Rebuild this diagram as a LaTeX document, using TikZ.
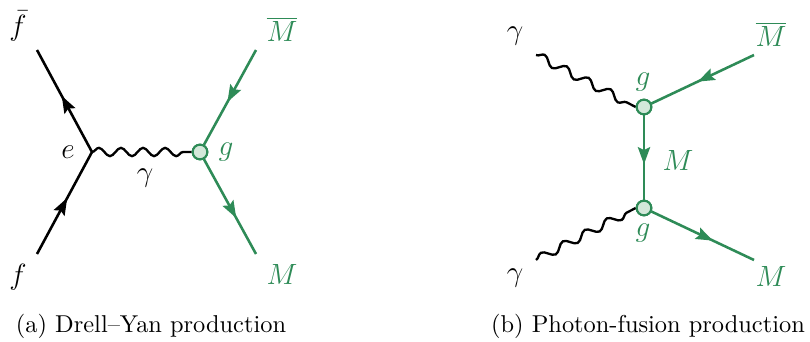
\documentclass[tikz,border=0pt]{standalone}
\usetikzlibrary{decorations.pathmorphing,decorations.markings,arrows.meta}
\definecolor{fgreen}{RGB}{46,139,87}
\definecolor{vfill}{RGB}{212,232,218}
\begin{document}
\begin{tikzpicture}[x=0.41pt,y=-0.41pt,
  fermion/.style={line width=1.05pt, postaction={decorate},
    decoration={markings, mark=at position #1 with {\arrow{Stealth[length=7pt,width=5pt,inset=1.2pt]}}}},
  fermion/.default=0.55,
  photon/.style={line width=0.95pt, decorate,
    decoration={snake, segment length=#1, amplitude=1.7pt}},
  photon/.default=10pt,
  vtx/.style={circle, draw=fgreen, fill=vfill, line width=0.85pt, inner sep=0pt, minimum size=6pt},
  pt/.style={inner sep=0pt, minimum size=0pt},
  lbl/.style={inner sep=0pt, font=\large},
  glbl/.style={inner sep=0pt, text=fgreen, font=\large},
  captext/.style={inner sep=0pt},
]
\useasboundingbox (0,0) rectangle (810,341);
% ---------- (a) Drell-Yan ----------
\coordinate (fbarend) at (37,50);
\coordinate (fend) at (37,254);
\coordinate (Mbarend) at (256,50);
\coordinate (Mend) at (256,254);
\node[pt] (e) at (92,152) {};
\node[vtx] (ga) at (200,152) {};
\draw[fermion] (fend) -- (e.center);
\draw[fermion] (e.center) -- (fbarend);
\draw[photon=9.05pt] (e.center) -- (ga.west);
\draw[fermion=0.55, draw=fgreen, color=fgreen] (Mbarend) -- (ga);
\draw[fermion=0.62, draw=fgreen, color=fgreen] (ga) -- (Mend);
\node[vtx] at (ga) {};
\node[lbl] (lfbar) at (18,26) {$\bar f$};
\node[lbl] (lf) at (18,277) {$f$};
\node[lbl] (le) at (68,152) {$e$};
\node[lbl] (lgam) at (145,178) {$\gamma$};
\node[glbl] (lga) at (226,152) {$g$};
\node[glbl] (lMbar) at (282,29) {$\overline{M}$};
\node[glbl] (lM) at (282,274) {$M$};
\node[captext] (capa) at (151,326) {(a) Drell--Yan production};
% ---------- (b) Photon fusion ----------
\coordinate (g1end) at (536,55);
\coordinate (g2end) at (536,260);
\coordinate (Mbarend2) at (754,55);
\coordinate (Mend2) at (754,260);
\node[vtx] (v1) at (644,107) {};
\node[vtx] (v2) at (644,208) {};
\draw[photon=10.15pt] (g1end) -- (v1.west);
\draw[photon=10.15pt] (g2end) -- (v2.west);
\draw[fermion=0.55, draw=fgreen, color=fgreen] (Mbarend2) -- (v1);
\draw[fermion=0.58, draw=fgreen, color=fgreen] (v1) -- (v2);
\draw[fermion=0.6, draw=fgreen, color=fgreen] (v2) -- (Mend2);
\node[vtx] at (v1) {};
\node[vtx] at (v2) {};
\node[lbl] (lg1) at (515,36) {$\gamma$};
\node[lbl] (lg2) at (515,278) {$\gamma$};
\node[glbl] (lv1) at (643,82) {$g$};
\node[glbl] (lv2) at (643,233) {$g$};
\node[glbl] (lMp) at (678,160) {$M$};
\node[glbl] (lMbar2) at (771,34) {$\overline{M}$};
\node[glbl] (lM2) at (771,276) {$M$};
\node[captext] (capb) at (648,326) {(b) Photon-fusion production};
\end{tikzpicture}
\end{document}
